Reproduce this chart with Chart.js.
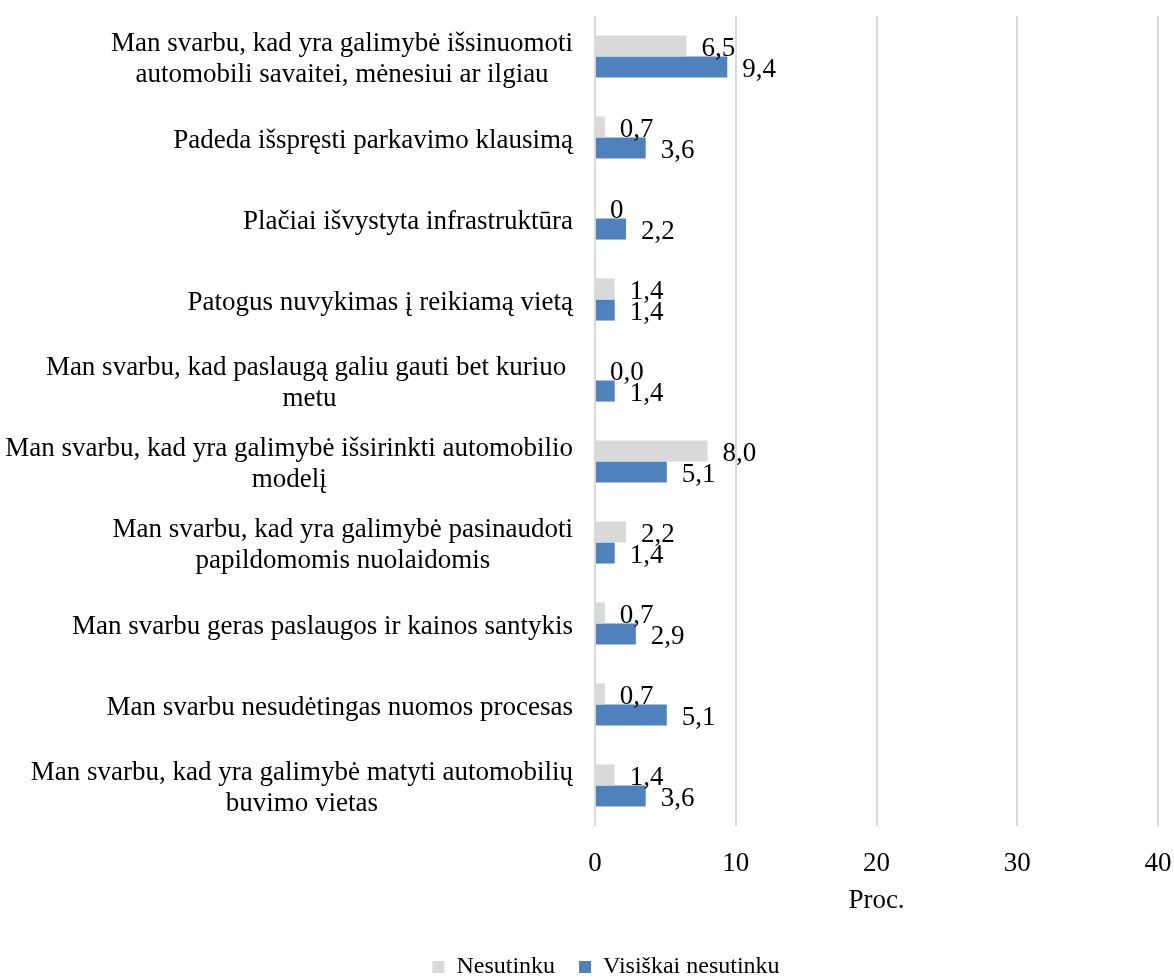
<!DOCTYPE html>
<html>
<head>
<meta charset="utf-8">
<script src="https://cdn.jsdelivr.net/npm/chart.js@4.4.1/dist/chart.umd.min.js"></script>
<style>
  html, body { margin: 0; padding: 0; background: #fff; }
  #wrap { width: 1174px; height: 979px; }
</style>
</head>
<body>
<div id="wrap"><canvas id="chart"></canvas></div>
<script>
const categories = [
  ["Man svarbu, kad yra galimybė išsinuomoti", "automobili savaitei, mėnesiui ar ilgiau"],
  "Padeda išspręsti parkavimo klausimą",
  "Plačiai išvystyta infrastruktūra",
  "Patogus nuvykimas į reikiamą vietą",
  ["Man svarbu, kad paslaugą galiu gauti bet kuriuo ", "metu"],
  ["Man svarbu, kad yra galimybė išsirinkti automobilio", "modelį"],
  ["Man svarbu, kad yra galimybė pasinaudoti", "papildomomis nuolaidomis"],
  "Man svarbu geras paslaugos ir kainos santykis",
  "Man svarbu nesudėtingas nuomos procesas",
  ["Man svarbu, kad yra galimybė matyti automobilių", "buvimo vietas"]
];
const nesutinku = [6.5, 0.7, 0, 1.4, 0.0, 8.0, 2.2, 0.7, 0.7, 1.4];
const visiskaiNesutinku = [9.4, 3.6, 2.2, 1.4, 1.4, 5.1, 1.4, 2.9, 5.1, 3.6];
const nesutinkuText = ["6,5", "0,7", "0", "1,4", "0,0", "8,0", "2,2", "0,7", "0,7", "1,4"];
const visiskaiText = ["9,4", "3,6", "2,2", "1,4", "1,4", "5,1", "1,4", "2,9", "5,1", "3,6"];
const xTicks = [0, 10, 20, 30, 40];

const serif = "'Liberation Serif', 'Times New Roman', serif";
const labelTexts = [nesutinkuText, visiskaiText];

// category names: each block right-aligned to the axis, its lines centred inside it
const categoryLabels = {
  id: 'categoryLabels',
  afterDraw(chart) {
    const y = chart.scales.y;
    const ctx = chart.ctx;
    const lineH = 31;
    ctx.save();
    ctx.font = '27px ' + serif;
    ctx.fillStyle = '#000';
    ctx.textAlign = 'center';
    ctx.textBaseline = 'middle';
    categories.forEach((label, i) => {
      const lines = Array.isArray(label) ? label : [label];
      const w = Math.max(...lines.map(l => ctx.measureText(l).width));
      const cx = y.right - 22 - w / 2;
      const cy = y.getPixelForValue(i) + 3;
      const top = cy - (lines.length - 1) * lineH / 2;
      lines.forEach((l, k) => ctx.fillText(l, cx, top + k * lineH));
    });
    ctx.restore();
  }
};

// value text just past the end of each bar
const valueLabels = {
  id: 'valueLabels',
  afterDatasetsDraw(chart) {
    const ctx = chart.ctx;
    ctx.save();
    ctx.font = '27px ' + serif;
    ctx.fillStyle = '#000';
    ctx.textAlign = 'left';
    ctx.textBaseline = 'middle';
    chart.data.datasets.forEach((ds, di) => {
      chart.getDatasetMeta(di).data.forEach((bar, i) => {
        ctx.fillText(labelTexts[di][i], bar.x + 15, bar.y + 3);
      });
    });
    ctx.restore();
  }
};

new Chart(document.getElementById('chart'), {
  type: 'bar',
  data: {
    labels: categories,
    datasets: [
      {
        label: 'Nesutinku',
        data: nesutinku,
        backgroundColor: '#d9d9d9',
        categoryPercentage: 0.52,
        barPercentage: 1.0
      },
      {
        label: 'Visiškai nesutinku',
        data: visiskaiNesutinku,
        backgroundColor: '#4f81bd',
        categoryPercentage: 0.52,
        barPercentage: 1.0
      }
    ]
  },
  options: {
    indexAxis: 'y',
    responsive: true,
    maintainAspectRatio: false,
    animation: false,
    layout: { padding: { top: 16, right: 16, bottom: -10, left: 54 } },
    scales: {
      x: {
        min: xTicks[0],
        max: xTicks[xTicks.length - 1],
        afterBuildTicks(scale) {
          scale.ticks = xTicks.map(v => ({ value: v }));
        },
        afterFit(scale) { scale.height = 105; },
        // invisible tick marks keep the labels clear of the plot
        grid: { color: '#d9d9d9', lineWidth: 2, drawTicks: true, tickLength: 22, tickColor: 'rgba(0,0,0,0)' },
        border: { display: false },
        ticks: {
          padding: 0,
          color: '#000',
          font: { family: serif, size: 27 }
        },
        title: {
          display: true,
          text: 'Proc.',
          color: '#000',
          font: { family: serif, size: 27 },
          padding: { top: 4, bottom: 14 }
        }
      },
      y: {
        afterFit(scale) { scale.width = 541; },
        grid: { display: false },
        border: { display: false },
        ticks: { display: false }
      }
    },
    plugins: {
      legend: {
        position: 'bottom',
        labels: {
          color: '#000',
          font: { family: serif, size: 24 },
          boxWidth: 12,
          boxHeight: 12,
          padding: 24
        }
      },
      tooltip: { enabled: false }
    }
  },
  plugins: [categoryLabels, valueLabels]
});
</script>
</body>
</html>
